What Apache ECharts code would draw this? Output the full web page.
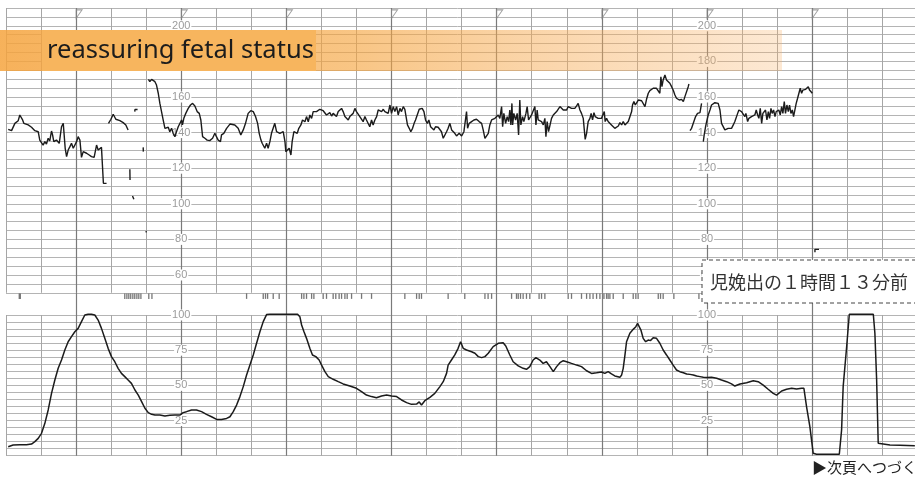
<!DOCTYPE html>
<html>
<head>
<meta charset="utf-8">
<script src="https://cdn.jsdelivr.net/npm/echarts@6/dist/echarts.min.js"></script>
<style>
html,body{margin:0;padding:0;background:#fff;}
#c{width:915px;height:478px;}
</style>
</head>
<body>
<div id="c"></div>
<script>
// Time is in seconds: fine columns every 20 s, bold columns every 60 s.
// Fetal heart rate (bpm); [t, null] entries mark signal loss.
const fhrTrace = [
  [-38.7,141.8],[-36.8,141.1],[-34.9,145.2],[-33.0,146.7],[-32.1,149.9],[-31.1,150.3],[-30.5,147.1],[-29.8,145.2],
  [-28.7,146.1],[-27.3,144.3],[-25.4,143.0],[-23.5,141.1],[-21.6,140.5],[-20.7,135.8],[-19.7,136.8],[-18.8,133.0],
  [-17.8,134.9],[-16.9,133.6],[-15.9,136.8],[-15.0,135.3],[-14.0,140.9],[-13.4,138.7],[-12.7,134.9],[-11.2,135.8],
  [-9.6,134.0],[-8.3,143.3],[-7.3,145.2],[-6.8,145.2],[-6.2,131.2],[-5.4,126.5],[-4.5,130.2],[-3.5,132.1],
  [-2.6,134.0],[-1.6,131.2],[-0.7,130.2],[0.3,134.9],[1.2,137.7],[2.2,135.8],[3.1,126.1],[4.1,129.3],[5.0,128.4],
  [6.0,128.4],[7.5,127.4],[8.8,126.5],[10.3,126.1],[11.7,133.0],[12.6,130.2],[13.6,130.6],[14.5,131.7],[15.5,131.2],
  [15.6,111.5],[17.4,111.5],
  [18.0,null],
  [18.5,145.2],[19.9,147.5],[21.2,150.3],[22.7,147.5],[25.0,146.7],[26.9,145.6],[28.4,144.3],[29.7,141.5],
  [30.2,null],
  [30.7,119.4],[30.8,113.4],
  [31.5,null],
  [32.2,104.4],[33.0,102.5],
  [33.3,null],
  [33.5,151.8],[33.6,153.0],[35.1,153.0],
  [36.0,null],
  [38.3,131.7],[38.4,129.3],
  [39.0,null],
  [39.8,84.6],[40.2,84.0],
  [40.8,null],
  [41.3,169.9],[42.1,168.6],[43.1,169.9],[44.0,169.0],[45.0,168.6],[45.9,166.7],[46.9,162.1],[47.8,156.5],
  [48.8,155.5],[49.7,147.1],[50.7,142.4],[51.6,141.5],[52.6,143.0],[53.5,140.5],[54.5,142.4],[55.4,139.6],
  [56.4,137.7],[57.3,140.5],[58.3,143.3],[59.2,144.3],[60.2,147.1],[60.7,144.3],[61.5,148.0],[62.6,150.8],
  [64.0,153.6],[65.3,155.5],[66.5,156.4],[67.8,154.9],[69.1,151.8],[70.3,150.8],[71.2,147.1],[72.2,137.7],
  [73.5,136.8],[74.8,135.8],[76.3,135.5],[77.9,136.8],[79.2,139.6],[80.1,137.7],[81.1,135.8],[82.0,136.8],
  [82.4,134.9],[83.0,138.7],[84.3,139.6],[85.9,142.4],[87.8,144.8],[88.7,144.8],[90.6,144.3],[92.5,142.4],
  [94.0,138.7],[95.4,141.5],[96.7,145.2],[98.2,150.8],[99.7,152.3],[101.1,151.8],[102.4,149.0],[103.6,145.2],
  [104.5,139.6],[105.5,135.8],[106.2,134.0],[107.0,134.9],[107.7,131.2],[108.7,134.0],[109.6,131.2],[110.6,134.9],
  [111.5,139.6],[112.5,138.7],[113.4,145.2],[114.4,140.5],[115.3,141.5],[116.3,139.6],[117.3,138.7],[118.2,140.5],
  [119.2,134.9],[119.7,129.3],[120.7,128.4],[121.6,131.2],[122.6,127.4],[123.3,134.9],[124.3,140.5],[125.2,141.5],
  [126.2,139.6],[127.1,142.4],[128.3,144.3],[129.2,147.1],[130.6,146.1],[131.5,149.0],[132.5,146.1],[133.4,149.9],
  [134.4,148.0],[135.3,151.8],[136.3,150.8],[137.2,151.8],[138.2,151.8],[139.1,153.1],[140.1,153.6],[141.0,152.3],
  [142.0,152.7],[142.9,149.9],[143.9,150.8],[144.8,151.2],[145.8,149.3],[146.7,150.8],[147.7,149.9],[148.6,149.0],
  [149.6,151.8],[150.5,152.7],[151.5,153.6],[152.4,151.8],[153.4,149.0],[154.3,148.0],[155.3,147.1],[156.2,149.0],
  [157.2,149.9],[158.1,150.8],[159.1,153.6],[160.0,151.8],[161.0,150.8],[161.9,149.0],[162.9,148.0],[163.8,146.1],
  [164.8,149.0],[165.7,147.1],[166.7,148.0],[167.6,143.3],[168.6,147.1],[169.5,144.3],[170.5,147.1],[171.5,149.0],
  [172.4,152.7],[173.4,153.6],[174.3,151.8],[175.3,153.1],[176.2,151.8],[177.2,152.7],[178.1,150.8],[179.1,155.5],
  [180.0,150.8],[181.0,154.6],[181.9,151.8],[182.9,154.6],[183.8,149.9],[184.8,153.6],[185.7,151.8],[186.7,154.6],
  [187.6,153.1],[188.6,154.2],[189.1,144.3],[190.1,142.4],[191.0,140.5],[192.0,142.4],[192.9,145.2],[193.7,147.1],
  [194.8,148.0],[195.8,153.1],[196.7,152.7],[197.5,153.6],[198.5,151.8],[199.4,147.1],[200.4,145.2],[201.3,147.1],
  [202.3,143.3],[203.2,144.3],[204.2,141.5],[205.1,143.3],[206.6,143.0],[208.5,140.5],[209.5,136.8],[210.4,137.7],
  [211.4,140.5],[212.3,142.4],[213.3,145.2],[214.3,141.5],[216.1,139.6],[217.1,138.1],[218.6,139.6],[220.0,138.1],
  [221.3,140.5],[222.4,141.5],[222.8,151.8],[223.4,142.4],[224.3,145.2],[225.7,146.2],[227.0,147.1],[228.5,147.5],
  [230.0,146.2],[231.4,145.2],[232.3,141.5],[233.3,136.8],[234.2,135.9],[235.2,139.6],[236.1,144.3],[237.1,147.1],
  [238.0,147.5],[239.0,148.0],[239.9,147.1],[240.9,149.9],[241.8,148.0],[242.8,154.6],[243.4,143.3],[244.1,150.8],
  [245.1,145.2],[246.0,149.0],[246.8,146.2],[247.5,152.7],[248.1,144.3],[248.7,156.4],[249.1,144.3],[249.8,150.8],
  [250.8,147.1],[251.7,150.8],[252.5,138.7],[253.2,158.3],[253.8,144.3],[254.8,149.0],[255.5,146.2],[256.7,150.8],
  [257.4,154.6],[258.2,147.1],[258.9,148.0],[259.9,149.9],[260.9,149.9],[261.8,154.6],[262.4,144.3],[263.1,152.7],
  [263.7,147.1],[264.7,148.0],[265.6,146.2],[266.6,144.3],[267.5,148.0],[268.1,137.7],[268.8,146.2],[269.6,140.5],
  [270.4,139.6],[271.3,148.0],[272.3,149.9],[273.2,150.8],[274.2,151.8],[275.1,152.7],[276.1,154.6],[277.0,153.6],
  [278.0,152.7],[278.9,153.6],[279.9,152.7],[280.8,154.6],[281.8,153.6],[282.7,153.6],[283.7,154.6],[284.6,153.6],
  [285.6,155.0],[286.5,156.4],[287.5,152.7],[288.4,150.8],[289.4,148.0],[290.0,141.5],[290.5,136.2],[291.3,139.6],
  [292.2,146.2],[293.2,148.0],[293.9,150.8],[294.7,147.1],[295.5,151.2],[296.2,149.0],[297.0,149.9],[297.9,148.0],
  [298.9,147.1],[299.8,148.0],[300.8,149.0],[301.4,151.8],[301.9,146.2],[302.7,148.0],[303.6,146.2],[304.6,146.2],
  [305.5,144.3],[306.5,143.3],[307.4,142.4],[308.4,143.3],[309.4,143.7],[310.3,145.6],[311.3,144.3],[312.2,146.2],
  [313.2,144.3],[314.1,145.2],[315.1,146.2],[316.0,147.1],[317.0,151.8],[317.5,155.5],[318.3,157.4],[319.1,155.5],
  [319.8,156.4],[320.8,158.3],[321.7,157.4],[322.7,157.9],[323.6,158.3],[324.6,154.6],[325.5,158.7],[326.5,162.1],
  [327.4,163.6],[328.4,163.9],[329.3,164.9],[330.3,163.9],[331.2,164.9],[332.2,163.9],[333.1,162.1],[333.7,171.4],
  [334.3,165.8],[335.0,169.6],[336.0,172.4],[336.9,169.6],[337.9,169.2],[338.8,167.7],[339.8,165.8],[340.7,163.9],
  [341.7,161.1],[342.6,159.3],[344.2,158.3],[345.5,158.7],[346.5,157.4],[347.4,160.2],[348.4,161.1],[349.3,165.8],
  [349.7,167.3],
  [350.0,null],
  [350.3,141.1],[351.2,142.4],[352.2,143.3],[353.5,149.0],[354.6,150.8],[356.0,151.2],[356.9,156.4],
  [357.4,null],
  [357.9,134.9],[358.4,138.7],[359.2,143.3],[359.8,146.2],[360.7,149.9],[361.7,152.7],[362.6,155.5],[363.6,156.4],
  [364.5,156.8],[365.5,156.4],[366.4,156.4],[367.4,152.7],[368.3,145.2],[369.3,144.3],[370.2,141.5],[371.2,140.5],
  [372.1,142.4],[373.1,143.3],[374.0,142.4],[375.0,144.3],[375.9,146.2],[376.9,147.1],[377.5,150.8],[378.2,152.7],
  [379.0,153.6],[379.7,151.8],[380.7,151.8],[381.6,149.0],[382.2,150.8],[383.2,146.2],[383.9,148.0],[384.7,147.1],
  [385.4,149.0],[386.4,148.0],[387.3,149.9],[388.1,152.7],[388.9,149.9],[389.6,148.0],[390.4,153.6],[391.2,145.2],
  [391.9,150.8],[392.7,149.9],[393.4,152.7],[394.2,147.1],[395.0,151.8],[395.7,148.0],[396.5,153.6],[397.2,150.8],
  [398.0,152.7],[398.8,149.0],[399.5,151.8],[400.3,150.8],[401.0,152.7],[401.8,149.9],[402.6,154.6],[403.3,150.8],
  [404.1,157.4],[404.8,150.8],[405.6,155.5],[406.4,151.8],[407.1,155.5],[407.9,150.8],[408.7,152.7],[409.4,149.0],
  [410.2,149.4],[410.9,156.4],[411.7,159.3],[412.5,160.2],[413.2,164.9],[414.0,162.1],[414.7,163.9],[415.5,163.0],
  [416.3,164.3],[417.0,164.9],[417.8,165.8],[418.5,163.9],[419.3,163.0],[420.1,162.1],
  [420.8,null],
  [421.6,72.8],[421.6,74.4],[423.9,74.4]
];

// Uterine contraction pressure (0-100)
const ucTrace = [
  [-38.7,6.4],[-35.9,7.6],[-32.1,7.8],[-28.3,7.8],[-25.4,8.3],[-23.5,10.0],[-21.6,12.3],[-19.7,15.9],[-17.8,23.0],
  [-15.9,32.5],[-14.0,44.3],[-12.1,53.8],[-10.2,62.1],[-8.3,68.0],[-6.4,75.1],[-4.5,81.0],[-2.6,84.6],[-0.7,88.1],
  [1.2,90.5],[3.1,95.3],[5.0,100.0],[6.9,100.5],[8.8,100.5],[10.7,100.0],[12.6,96.4],[14.5,90.5],[16.4,83.4],
  [18.3,76.3],[20.2,70.4],[22.1,66.8],[24.0,62.1],[25.9,58.5],[27.8,56.2],[29.7,53.8],[31.6,51.4],[33.6,46.7],
  [35.5,43.1],[37.4,38.4],[39.3,33.7],[41.2,30.6],[43.1,29.4],[45.0,28.9],[47.8,28.9],[50.7,28.2],[53.5,28.7],
  [56.4,28.9],[59.2,28.9],[61.1,30.6],[63.0,31.3],[65.9,32.5],[68.7,32.5],[71.6,31.3],[74.4,29.4],[77.3,27.7],
  [80.2,25.8],[83.0,25.8],[85.9,26.5],[87.8,27.7],[89.7,31.3],[91.6,36.0],[93.5,42.0],[95.4,49.1],[97.3,57.3],
  [99.2,64.4],[101.1,71.6],[103.0,79.9],[104.9,88.1],[106.8,95.3],[108.7,100.3],[110.6,100.5],[114.4,100.5],
  [120.1,100.5],[123.9,100.5],[126.4,100.5],[127.7,98.8],[128.7,92.9],[130.0,88.2],[131.5,83.4],[133.4,76.3],
  [134.9,71.6],[136.8,70.4],[138.7,68.0],[140.1,64.4],[142.0,59.7],[143.9,56.2],[146.7,54.3],[149.6,52.6],
  [152.4,51.0],[156.2,49.5],[160.0,47.9],[162.9,45.5],[165.7,43.1],[168.6,42.0],[171.4,41.2],[174.3,42.4],
  [177.2,43.1],[180.0,42.4],[182.9,42.0],[185.7,39.6],[188.6,37.7],[191.4,36.5],[194.3,36.7],[195.8,38.2],
  [197.1,36.0],[199.0,39.1],[201.9,41.5],[204.7,44.3],[207.6,49.1],[209.5,52.6],[211.4,58.5],[212.3,64.4],
  [214.2,68.0],[216.1,71.6],[218.0,76.3],[219.4,81.0],[220.9,76.3],[222.8,75.1],[225.7,73.9],[227.6,72.8],
  [229.5,70.4],[231.4,69.7],[233.3,70.4],[235.2,72.8],[238.0,77.5],[240.9,79.9],[243.7,80.3],[245.2,78.0],
  [247.5,71.6],[249.4,66.8],[252.3,63.8],[255.1,62.1],[257.0,61.4],[258.9,63.3],[260.8,68.0],[262.4,69.7],
  [264.6,68.0],[266.5,65.6],[268.4,66.8],[270.4,63.3],[272.3,59.7],[274.2,63.3],[276.1,66.1],[278.0,67.5],
  [279.9,66.8],[282.7,65.6],[285.6,64.4],[288.4,63.3],[291.3,60.4],[294.1,58.5],[297.0,59.0],[299.8,59.5],
  [301.7,58.5],[303.6,59.7],[305.5,58.1],[307.4,56.7],[310.3,55.7],[311.3,57.4],[312.2,62.1],[313.2,71.6],
  [314.1,81.0],[316.0,87.0],[317.9,89.8],[319.4,91.7],[320.4,94.1],[321.3,93.4],[322.3,89.3],[323.6,83.4],
  [325.0,81.0],[326.5,82.2],[327.8,81.8],[329.3,83.9],[331.2,83.4],[333.1,79.9],[335.0,75.1],[336.9,71.6],
  [338.8,68.0],[340.7,64.4],[342.6,60.9],[344.5,59.7],[346.5,59.0],[348.4,58.1],[350.3,57.8],[352.2,57.4],
  [354.1,56.6],[356.0,56.2],[357.9,55.7],[359.8,55.5],[362.6,55.7],[365.5,55.0],[368.3,53.8],[371.2,52.6],
  [374.0,51.0],[375.9,49.5],[378.8,51.0],[382.6,51.9],[386.4,53.3],[389.2,52.6],[392.1,50.2],[394.9,47.2],
  [397.8,44.3],[399.7,43.1],[402.6,46.0],[405.4,47.2],[408.3,47.9],[411.1,47.4],[414.0,47.9],[415.3,47.9],
  [416.8,34.9],[418.7,20.6],[420.6,1.7],[422.5,1.0],[428.2,1.0],[435.5,1.0],[436.8,18.3],[437.7,49.1],
  [439.7,77.5],[441.2,100.5],[445.4,100.5],[451.1,100.5],[454.9,100.5],[455.8,87.0],[456.8,53.8],[457.7,8.8],
  [458.7,8.1],[464.4,7.6],[470.1,7.4],[478.6,7.1]
];

// Fetal movement marks (seconds)
const movementTimes = [
  -32.4,-31.8,27.8,29.0,30.1,31.2,32.4,33.5,34.7,35.8,37.0,41.5,43.3,97.3,106.8,108.1,109.3,112.5,115.9,
  128.7,130.0,131.5,134.4,135.7,141.0,142.9,146.7,148.2,150.1,151.5,153.4,154.7,157.2,162.9,168.6,
  187.6,194.3,195.8,197.1,212.3,221.8,233.3,235.1,237.1,248.5,251.3,252.3,253.6,255.1,257.0,258.9,
  264.2,265.6,267.5,280.8,282.7,288.4,291.3,293.2,295.0,297.0,298.9,301.2,302.7,303.6,304.6,306.5,
  312.2,317.9,319.4,320.7,332.2,333.5,335.0,341.1,355.4
];

// Paper-speed marks at the bold minute lines
const minuteMarks = [0, 60, 120, 180, 240, 300, 360, 420];

const fhrLabels = [60, 80, 100, 120, 140, 160, 180, 200];
const ucLabels = [25, 50, 75, 100];

const chart = echarts.init(document.getElementById('c'), null, {renderer: 'canvas'});

// shared layout of the three stacked panels
const gridLeft = -29.1, gridWidth = 946.4;
const fine = '#a6a6a6', bold = '#7a7a7a', rowLine = '#b4b4b4';
const labelStyle = {
  show: true, align: 'center', verticalAlign: 'middle', margin: 0,
  color: '#9c9c9c', fontSize: 11, fontFamily: 'Liberation Sans',
  backgroundColor: '#fff', padding: [0, 1]
};

function timeAxis(gridIndex, step, color, width) {
  return {
    type: 'value', gridIndex, min: -60, max: 480, interval: step,
    axisLine: {show: false}, axisTick: {show: false}, axisLabel: {show: false},
    splitLine: {show: true, lineStyle: {color, width}}
  };
}
function labelAxis(gridIndex, min, max, step, values, position) {
  return {
    type: 'value', gridIndex, min, max, interval: step, position, offset: -210.3,
    axisLine: {show: false}, axisTick: {show: false}, splitLine: {show: false},
    axisLabel: Object.assign({customValues: values}, labelStyle)
  };
}

const option = {
  backgroundColor: '#fff',
  animation: false,
  grid: [
    {left: gridLeft, width: gridWidth, top: 8, height: 284.8, outerBoundsMode: 'none', containLabel: false},
    {left: gridLeft, width: gridWidth, top: 292.8, height: 22.2, outerBoundsMode: 'none', containLabel: false},
    {left: gridLeft, width: gridWidth, top: 315, height: 140.7, outerBoundsMode: 'none', containLabel: false}
  ],
  xAxis: [
    timeAxis(0, 20, fine, 1),
    timeAxis(0, 60, bold, 1.2),
    timeAxis(1, 60, bold, 1.2),
    timeAxis(2, 20, fine, 1),
    timeAxis(2, 60, bold, 1.2)
  ],
  yAxis: [
    {type: 'value', gridIndex: 0, min: 50, max: 210, interval: 5,
     axisLine: {show: false}, axisTick: {show: false}, axisLabel: {show: false},
     splitLine: {show: true, lineStyle: {color: rowLine, width: 1}}},
    labelAxis(0, 50, 210, 10, fhrLabels, 'left'),
    labelAxis(0, 50, 210, 10, fhrLabels, 'right'),
    {type: 'value', gridIndex: 1, min: 0, max: 1, inverse: true, show: false},
    {type: 'value', gridIndex: 2, min: 0, max: 100, interval: 5,
     axisLine: {show: false}, axisTick: {show: false}, axisLabel: {show: false},
     splitLine: {show: true, lineStyle: {color: rowLine, width: 1}}},
    labelAxis(2, 0, 100, 25, ucLabels, 'left'),
    labelAxis(2, 0, 100, 25, ucLabels, 'right')
  ],
  series: [
    {
      name: 'FHR', type: 'line', xAxisIndex: 0, yAxisIndex: 0,
      data: fhrTrace, showSymbol: false, symbol: 'none', connectNulls: false,
      lineStyle: {color: '#1b1b1b', width: 1.4}, z: 4
    },
    {
      name: 'UC', type: 'line', xAxisIndex: 3, yAxisIndex: 4, clip: false,
      data: ucTrace, showSymbol: false, symbol: 'none',
      lineStyle: {color: '#1b1b1b', width: 1.5}, z: 4
    },
    {
      name: 'movement', type: 'scatter', xAxisIndex: 2, yAxisIndex: 3,
      data: movementTimes.map(t => [t, 0.15]),
      symbol: 'rect', symbolSize: [1.3, 5.5],
      itemStyle: {color: '#555'}, z: 4
    },
    {
      name: 'minute', type: 'scatter', xAxisIndex: 1, yAxisIndex: 0,
      data: minuteMarks.map(t => [t, 206.6]),
      symbol: 'path://M0,0 L7,0 L0,10 Z', symbolSize: [6, 8.5], symbolOffset: [3, 0],
      itemStyle: {color: 'rgba(255,255,255,0)', borderColor: '#8a8a8a', borderWidth: 1}, z: 4
    }
  ],
  graphic: [
    // blank paper margin on the left edge
    {type: 'rect', z: 3, shape: {x: 0, y: 0, width: 6, height: 478}, style: {fill: '#fff'}},
    // highlighted band
    {type: 'rect', z: 10, shape: {x: 0, y: 30, width: 782, height: 41},
     style: {fill: new echarts.graphic.LinearGradient(0, 0, 1, 0, [
       {offset: 0, color: 'rgba(245,164,62,0.85)'},
       {offset: 0.45, color: 'rgba(245,164,62,0.64)'},
       {offset: 1, color: 'rgba(248,180,110,0.3)'}
     ])}},
    {type: 'rect', z: 11, shape: {x: 42, y: 30, width: 274, height: 41}, style: {fill: '#f7b55e'}},
    {type: 'text', z: 12, x: 47, y: 51,
     style: {text: 'reassuring fetal status', font: '25.5px "Noto Sans"', fill: '#1c1c1c', verticalAlign: 'middle'}},
    // delivery note box
    {type: 'rect', z: 12, shape: {x: 702, y: 260, width: 230, height: 43},
     style: {fill: '#fff', stroke: '#444', lineWidth: 1, lineDash: [4, 3]}},
    {type: 'text', z: 13, x: 710, y: 282,
     style: {text: '児娩出の１時間１３分前', font: '18px "Noto Sans CJK JP"', fill: '#333', verticalAlign: 'middle'}},
    {type: 'text', z: 13, x: 812, y: 467,
     style: {text: '▶次頁へつづく', font: '15px "Noto Sans CJK JP"', fill: '#222', verticalAlign: 'middle'}}
  ]
};

chart.setOption(option);
</script>
</body>
</html>
